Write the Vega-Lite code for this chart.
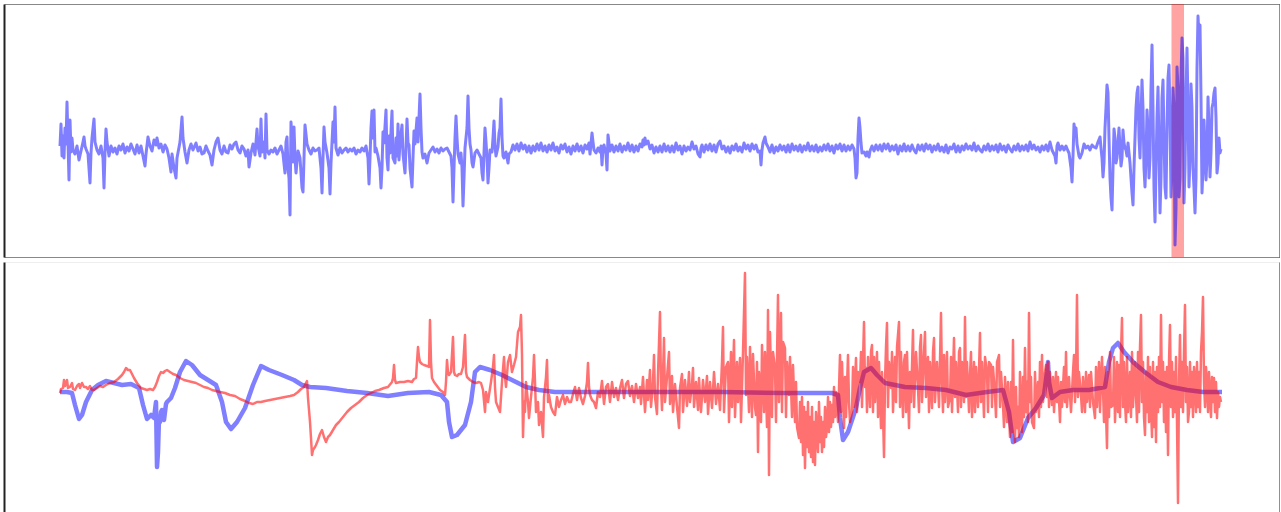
{
"$schema":"https://vega.github.io/schema/vega-lite/v6.json",
"padding":{"left":4,"top":4,"right":0,"bottom":0},
"background":"white",
"spacing":5,
"config":{"view":{"stroke":null},"axis":{"labels":false,"ticks":false,"grid":false,"domainColor":"#888888","domainWidth":1}},
"datasets":{
"top":[
{"t":60,"v":2},{"t":61,"v":24},{"t":62,"v":-8},{"t":63,"v":12},{"t":64,"v":-10},{"t":65,"v":20},{"t":66,"v":4},{"t":67,"v":46},{"t":68,"v":6},{"t":69,"v":-32},{"t":70,"v":28},{"t":71,"v":-4},{"t":72,"v":10},{"t":73,"v":-2},{"t":75,"v":-6},{"t":77,"v":2},{"t":79,"v":-12},{"t":81,"v":-3},{"t":83,"v":6},{"t":84,"v":11},{"t":85,"v":2},{"t":86,"v":-1},{"t":88,"v":-6},{"t":90,"v":-35},{"t":91,"v":-5},{"t":92,"v":10},{"t":94,"v":29},{"t":95,"v":6},{"t":97,"v":-2},{"t":99,"v":-6},{"t":101,"v":2},{"t":103,"v":-10},{"t":104,"v":-40},{"t":105,"v":-4},{"t":106,"v":19},{"t":107,"v":6},{"t":109,"v":-8},{"t":111,"v":2},{"t":113,"v":-4},{"t":115,"v":0},{"t":117,"v":-6},{"t":119,"v":2},{"t":121,"v":-2},{"t":123,"v":4},{"t":125,"v":-5},{"t":127,"v":1},{"t":129,"v":-3},{"t":131,"v":4},{"t":133,"v":-1},{"t":135,"v":-6},{"t":137,"v":3},{"t":139,"v":-5},{"t":141,"v":2},{"t":143,"v":-8},{"t":145,"v":-18},{"t":146,"v":-6},{"t":148,"v":11},{"t":150,"v":2},{"t":152,"v":-3},{"t":154,"v":8},{"t":156,"v":3},{"t":157,"v":10},{"t":159,"v":0},{"t":161,"v":4},{"t":163,"v":-4},{"t":165,"v":3},{"t":167,"v":-1},{"t":169,"v":-10},{"t":171,"v":-24},{"t":172,"v":-6},{"t":174,"v":-20},{"t":176,"v":-30},{"t":177,"v":-10},{"t":180,"v":6},{"t":182,"v":31},{"t":183,"v":10},{"t":185,"v":-4},{"t":187,"v":-15},{"t":189,"v":-2},{"t":191,"v":4},{"t":193,"v":-2},{"t":196,"v":5},{"t":198,"v":-3},{"t":200,"v":1},{"t":202,"v":-6},{"t":204,"v":-5},{"t":206,"v":2},{"t":208,"v":-3},{"t":210,"v":-7},{"t":212,"v":-17},{"t":214,"v":-2},{"t":216,"v":6},{"t":218,"v":10},{"t":220,"v":-2},{"t":222,"v":-6},{"t":224,"v":2},{"t":226,"v":-4},{"t":228,"v":-5},{"t":230,"v":3},{"t":232,"v":-1},{"t":234,"v":4},{"t":236,"v":6},{"t":238,"v":-2},{"t":240,"v":-5},{"t":242,"v":2},{"t":244,"v":-1},{"t":246,"v":-8},{"t":248,"v":-2},{"t":249,"v":-19},{"t":251,"v":-5},{"t":253,"v":4},{"t":255,"v":-7},{"t":257,"v":19},{"t":258,"v":2},{"t":260,"v":-8},{"t":261,"v":29},{"t":262,"v":-4},{"t":264,"v":6},{"t":265,"v":-10},{"t":266,"v":34},{"t":267,"v":-2},{"t":269,"v":-6},{"t":271,"v":-2},{"t":273,"v":-4},{"t":275,"v":0},{"t":277,"v":-6},{"t":279,"v":-2},{"t":281,"v":2},{"t":283,"v":-6},{"t":285,"v":-25},{"t":286,"v":6},{"t":287,"v":11},{"t":288,"v":-20},{"t":289,"v":-30},{"t":290,"v":-67},{"t":291,"v":26},{"t":292,"v":8},{"t":293,"v":-14},{"t":294,"v":21},{"t":295,"v":-10},{"t":296,"v":-25},{"t":298,"v":-3},{"t":300,"v":-10},{"t":302,"v":-40},{"t":303,"v":-44},{"t":304,"v":-10},{"t":305,"v":23},{"t":307,"v":4},{"t":309,"v":-2},{"t":311,"v":-6},{"t":313,"v":0},{"t":315,"v":-3},{"t":317,"v":-2},{"t":319,"v":0},{"t":321,"v":-20},{"t":322,"v":-45},{"t":323,"v":-10},{"t":324,"v":21},{"t":325,"v":6},{"t":327,"v":-5},{"t":329,"v":-20},{"t":330,"v":-46},{"t":331,"v":-15},{"t":333,"v":26},{"t":334,"v":6},{"t":335,"v":41},{"t":336,"v":0},{"t":338,"v":-7},{"t":340,"v":0},{"t":342,"v":-5},{"t":344,"v":-2},{"t":346,"v":0},{"t":348,"v":-4},{"t":350,"v":-1},{"t":352,"v":-3},{"t":354,"v":0},{"t":356,"v":-6},{"t":358,"v":-2},{"t":360,"v":-4},{"t":362,"v":0},{"t":364,"v":-3},{"t":366,"v":2},{"t":368,"v":-10},{"t":369,"v":-36},{"t":370,"v":-10},{"t":371,"v":20},{"t":372,"v":37},{"t":373,"v":10},{"t":374,"v":38},{"t":375,"v":-4},{"t":376,"v":0},{"t":378,"v":-8},{"t":380,"v":-20},{"t":381,"v":-40},{"t":382,"v":-20},{"t":383,"v":16},{"t":384,"v":5},{"t":386,"v":38},{"t":387,"v":-10},{"t":388,"v":-22},{"t":389,"v":12},{"t":390,"v":-5},{"t":392,"v":37},{"t":393,"v":-10},{"t":395,"v":-15},{"t":396,"v":10},{"t":397,"v":-8},{"t":398,"v":24},{"t":399,"v":-12},{"t":400,"v":5},{"t":402,"v":23},{"t":403,"v":-6},{"t":405,"v":-25},{"t":406,"v":0},{"t":407,"v":29},{"t":408,"v":5},{"t":409,"v":3},{"t":410,"v":-20},{"t":412,"v":-39},{"t":413,"v":-10},{"t":414,"v":17},{"t":415,"v":4},{"t":417,"v":30},{"t":418,"v":6},{"t":420,"v":54},{"t":421,"v":20},{"t":422,"v":-4},{"t":423,"v":-10},{"t":425,"v":-6},{"t":427,"v":-15},{"t":429,"v":-5},{"t":431,"v":-2},{"t":433,"v":1},{"t":435,"v":-4},{"t":437,"v":-1},{"t":439,"v":-5},{"t":441,"v":0},{"t":443,"v":-3},{"t":445,"v":-1},{"t":447,"v":0},{"t":449,"v":-4},{"t":451,"v":-8},{"t":452,"v":-20},{"t":453,"v":-54},{"t":454,"v":-20},{"t":455,"v":10},{"t":456,"v":32},{"t":457,"v":10},{"t":458,"v":-6},{"t":460,"v":-15},{"t":461,"v":-5},{"t":462,"v":-20},{"t":463,"v":-58},{"t":464,"v":-30},{"t":465,"v":0},{"t":467,"v":20},{"t":468,"v":52},{"t":469,"v":20},{"t":470,"v":4},{"t":471,"v":-2},{"t":472,"v":-15},{"t":473,"v":-19},{"t":475,"v":-5},{"t":477,"v":-2},{"t":479,"v":-6},{"t":481,"v":-10},{"t":482,"v":-25},{"t":483,"v":-32},{"t":484,"v":-5},{"t":485,"v":20},{"t":486,"v":6},{"t":487,"v":-10},{"t":488,"v":-35},{"t":489,"v":-20},{"t":490,"v":-2},{"t":492,"v":-4},{"t":493,"v":10},{"t":494,"v":27},{"t":495,"v":2},{"t":496,"v":-8},{"t":498,"v":1},{"t":499,"v":15},{"t":500,"v":20},{"t":501,"v":49},{"t":502,"v":10},{"t":503,"v":-8},{"t":504,"v":-10},{"t":506,"v":-4},{"t":508,"v":-15},{"t":509,"v":-6},
{"t":511,"v":-4},{"t":513,"v":3},{"t":515,"v":-2},{"t":517,"v":4},{"t":519,"v":-3},{"t":521,"v":5},{"t":523,"v":-1},{"t":525,"v":3},{"t":527,"v":-4},{"t":529,"v":2},{"t":531,"v":-5},{"t":533,"v":2},{"t":535,"v":-3},{"t":537,"v":4},{"t":539,"v":-2},{"t":541,"v":5},{"t":543,"v":-3},{"t":545,"v":2},{"t":547,"v":-4},{"t":549,"v":3},{"t":551,"v":-2},{"t":553,"v":5},{"t":555,"v":-3},{"t":557,"v":1},{"t":559,"v":-5},{"t":561,"v":3},{"t":563,"v":-1},{"t":565,"v":4},{"t":567,"v":-4},{"t":569,"v":1},{"t":571,"v":-6},{"t":573,"v":2},{"t":575,"v":-3},{"t":577,"v":4},{"t":579,"v":-3},{"t":581,"v":2},{"t":583,"v":-5},{"t":585,"v":3},{"t":587,"v":-1},{"t":589,"v":5},{"t":590,"v":-6},{"t":591,"v":4},{"t":592,"v":15},{"t":593,"v":6},{"t":594,"v":-2},{"t":596,"v":-5},{"t":598,"v":0},{"t":600,"v":-4},{"t":601,"v":2},{"t":602,"v":-17},{"t":603,"v":0},{"t":604,"v":3},{"t":606,"v":-6},{"t":607,"v":-22},{"t":608,"v":13},{"t":609,"v":5},{"t":610,"v":-3},{"t":612,"v":3},{"t":614,"v":-4},{"t":616,"v":2},{"t":618,"v":-3},{"t":620,"v":4},{"t":622,"v":-4},{"t":624,"v":2},{"t":626,"v":-2},{"t":628,"v":5},{"t":630,"v":-3},{"t":632,"v":3},{"t":634,"v":-4},{"t":636,"v":2},{"t":638,"v":-3},{"t":640,"v":4},{"t":642,"v":1},{"t":643,"v":8},{"t":644,"v":3},{"t":645,"v":10},{"t":646,"v":4},{"t":648,"v":7},{"t":650,"v":-1},{"t":652,"v":3},{"t":654,"v":-5},{"t":656,"v":1},{"t":658,"v":-4},{"t":660,"v":2},{"t":662,"v":-4},{"t":664,"v":4},{"t":666,"v":-3},{"t":668,"v":2},{"t":670,"v":-4},{"t":672,"v":2},{"t":674,"v":-4},{"t":676,"v":5},{"t":678,"v":-2},{"t":680,"v":2},{"t":682,"v":-6},{"t":684,"v":2},{"t":686,"v":-3},{"t":688,"v":1},{"t":690,"v":-2},{"t":692,"v":6},{"t":694,"v":-1},{"t":696,"v":2},{"t":698,"v":-6},{"t":700,"v":-9},{"t":701,"v":0},{"t":702,"v":3},{"t":704,"v":-4},{"t":706,"v":3},{"t":708,"v":-2},{"t":710,"v":4},{"t":712,"v":-3},{"t":714,"v":3},{"t":716,"v":-4},{"t":718,"v":4},{"t":720,"v":7},{"t":722,"v":-1},{"t":724,"v":2},{"t":726,"v":-4},{"t":728,"v":1},{"t":730,"v":-5},{"t":732,"v":2},{"t":734,"v":-2},{"t":736,"v":4},{"t":738,"v":-3},{"t":740,"v":1},{"t":742,"v":-4},{"t":744,"v":5},{"t":746,"v":-1},{"t":748,"v":3},{"t":750,"v":-3},{"t":752,"v":4},{"t":754,"v":-1},{"t":756,"v":3},{"t":758,"v":-4},{"t":760,"v":-3},{"t":761,"v":-17},{"t":762,"v":-2},{"t":763,"v":5},{"t":764,"v":8},{"t":765,"v":11},{"t":766,"v":5},{"t":768,"v":1},{"t":770,"v":-4},{"t":772,"v":3},{"t":774,"v":-5},{"t":776,"v":1},{"t":778,"v":-3},{"t":780,"v":3},{"t":782,"v":-2},{"t":784,"v":2},{"t":786,"v":-4},{"t":788,"v":3},{"t":790,"v":-4},{"t":792,"v":4},{"t":794,"v":-2},{"t":796,"v":2},{"t":798,"v":-3},{"t":800,"v":3},{"t":802,"v":-4},{"t":804,"v":2},{"t":806,"v":-2},{"t":808,"v":5},{"t":810,"v":-3},{"t":812,"v":2},{"t":814,"v":-3},{"t":816,"v":3},{"t":818,"v":-4},{"t":820,"v":1},{"t":822,"v":-3},{"t":824,"v":3},{"t":826,"v":-2},{"t":828,"v":4},{"t":830,"v":-3},{"t":832,"v":2},{"t":834,"v":-5},{"t":836,"v":3},{"t":838,"v":-1},{"t":840,"v":4},{"t":842,"v":-3},{"t":844,"v":3},{"t":846,"v":-3},{"t":848,"v":2},{"t":850,"v":-2},{"t":852,"v":3},{"t":854,"v":-1},{"t":855,"v":-10},{"t":856,"v":-30},{"t":857,"v":-25},{"t":858,"v":10},{"t":859,"v":30},{"t":860,"v":20},{"t":861,"v":5},{"t":862,"v":-5},{"t":864,"v":-4},{"t":866,"v":-8},{"t":867,"v":-4},{"t":869,"v":-9},{"t":870,"v":-3},{"t":872,"v":2},{"t":874,"v":-3},{"t":876,"v":3},{"t":878,"v":-2},{"t":880,"v":3},{"t":882,"v":-3},{"t":884,"v":4},{"t":886,"v":-1},{"t":888,"v":4},{"t":890,"v":-3},{"t":892,"v":2},{"t":894,"v":-2},{"t":896,"v":3},{"t":898,"v":-6},{"t":900,"v":2},{"t":902,"v":-3},{"t":904,"v":4},{"t":906,"v":-3},{"t":908,"v":2},{"t":910,"v":-3},{"t":912,"v":3},{"t":914,"v":-2},{"t":916,"v":-5},{"t":918,"v":3},{"t":920,"v":-2},{"t":922,"v":3},{"t":924,"v":-3},{"t":926,"v":4},{"t":928,"v":-1},{"t":930,"v":3},{"t":932,"v":-4},{"t":934,"v":2},{"t":936,"v":-2},{"t":938,"v":4},{"t":940,"v":-3},{"t":942,"v":1},{"t":944,"v":-4},{"t":946,"v":3},{"t":948,"v":-5},{"t":950,"v":1},{"t":952,"v":-1},{"t":954,"v":4},{"t":956,"v":-4},{"t":958,"v":2},{"t":960,"v":-4},{"t":962,"v":2},{"t":964,"v":-2},{"t":966,"v":4},{"t":968,"v":-1},{"t":970,"v":2},{"t":972,"v":-2},{"t":974,"v":5},{"t":976,"v":-3},{"t":978,"v":2},{"t":980,"v":-2},{"t":982,"v":-4},{"t":984,"v":2},{"t":986,"v":-2},{"t":988,"v":4},{"t":990,"v":-3},{"t":992,"v":2},{"t":994,"v":-2},{"t":996,"v":3},{"t":998,"v":-4},{"t":1000,"v":4},{"t":1002,"v":-2},{"t":1004,"v":2},{"t":1006,"v":-4},{"t":1008,"v":3},{"t":1010,"v":-1},{"t":1012,"v":-4},{"t":1014,"v":2},{"t":1016,"v":-2},{"t":1018,"v":4},{"t":1020,"v":-3},{"t":1022,"v":2},{"t":1024,"v":-2},{"t":1026,"v":3},{"t":1028,"v":-3},{"t":1030,"v":6},{"t":1032,"v":-1},{"t":1034,"v":3},{"t":1036,"v":-2},{"t":1038,"v":1},{"t":1040,"v":-4},{"t":1042,"v":2},{"t":1044,"v":-2},{"t":1046,"v":3},{"t":1048,"v":-3},{"t":1050,"v":6},{"t":1052,"v":-2},{"t":1054,"v":-6},{"t":1055,"v":-8},{"t":1056,"v":-15},{"t":1057,"v":2},{"t":1058,"v":5},{"t":1060,"v":-2},{"t":1062,"v":2},{"t":1064,"v":-2},{"t":1066,"v":2},{"t":1068,"v":-3},{"t":1069,"v":-5},
{"t":1071,"v":-20},{"t":1072,"v":-34},{"t":1073,"v":-8},{"t":1074,"v":24},{"t":1075,"v":15},{"t":1076,"v":20},{"t":1077,"v":4},{"t":1079,"v":-8},{"t":1080,"v":-10},{"t":1082,"v":-5},{"t":1084,"v":4},{"t":1086,"v":0},{"t":1088,"v":2},{"t":1090,"v":-2},{"t":1092,"v":3},{"t":1094,"v":1},{"t":1096,"v":0},{"t":1098,"v":6},{"t":1100,"v":11},{"t":1101,"v":0},{"t":1102,"v":-10},{"t":1103,"v":-29},{"t":1104,"v":-15},{"t":1105,"v":20},{"t":1106,"v":40},{"t":1107,"v":63},{"t":1108,"v":55},{"t":1109,"v":10},{"t":1110,"v":-30},{"t":1111,"v":-50},{"t":1112,"v":-62},{"t":1113,"v":-20},{"t":1114,"v":19},{"t":1115,"v":10},{"t":1116,"v":-15},{"t":1117,"v":-10},{"t":1118,"v":5},{"t":1119,"v":20},{"t":1120,"v":0},{"t":1121,"v":-18},{"t":1122,"v":-10},{"t":1123,"v":18},{"t":1124,"v":5},{"t":1125,"v":0},{"t":1126,"v":-2},{"t":1127,"v":-8},{"t":1128,"v":5},{"t":1129,"v":-5},{"t":1130,"v":-15},{"t":1131,"v":-30},{"t":1132,"v":-45},{"t":1133,"v":-57},{"t":1134,"v":-20},{"t":1135,"v":10},{"t":1136,"v":40},{"t":1137,"v":55},{"t":1138,"v":61},{"t":1139,"v":10},{"t":1140,"v":-10},{"t":1141,"v":30},{"t":1142,"v":68},{"t":1143,"v":40},{"t":1144,"v":-20},{"t":1145,"v":-39},{"t":1146,"v":-10},{"t":1147,"v":38},{"t":1148,"v":20},{"t":1149,"v":-30},{"t":1150,"v":-10},{"t":1151,"v":60},{"t":1152,"v":103},{"t":1153,"v":40},{"t":1154,"v":-40},{"t":1155,"v":-74},{"t":1156,"v":-20},{"t":1157,"v":30},{"t":1158,"v":61},{"t":1159,"v":0},{"t":1160,"v":-65},{"t":1161,"v":-30},{"t":1162,"v":50},{"t":1163,"v":68},{"t":1164,"v":10},{"t":1165,"v":-39},{"t":1166,"v":-50},{"t":1167,"v":20},{"t":1168,"v":70},{"t":1169,"v":83},{"t":1170,"v":30},{"t":1171,"v":-49},{"t":1172,"v":-20},{"t":1173,"v":60},{"t":1174,"v":40},{"t":1175,"v":-97},{"t":1176,"v":-60},{"t":1177,"v":81},{"t":1178,"v":60},{"t":1179,"v":-49},{"t":1180,"v":-30},{"t":1181,"v":70},{"t":1182,"v":110},{"t":1183,"v":90},{"t":1184,"v":-55},{"t":1185,"v":-20},{"t":1186,"v":50},{"t":1187,"v":100},{"t":1188,"v":40},{"t":1189,"v":-39},{"t":1190,"v":-10},{"t":1191,"v":64},{"t":1192,"v":40},{"t":1193,"v":-20},{"t":1194,"v":-40},{"t":1195,"v":-65},{"t":1196,"v":-30},{"t":1197,"v":80},{"t":1198,"v":132},{"t":1199,"v":110},{"t":1200,"v":123},{"t":1201,"v":50},{"t":1202,"v":-45},{"t":1203,"v":-20},{"t":1204,"v":28},{"t":1205,"v":0},{"t":1206,"v":-32},{"t":1207,"v":-10},{"t":1208,"v":51},{"t":1209,"v":20},{"t":1210,"v":-29},{"t":1211,"v":-5},{"t":1212,"v":40},{"t":1213,"v":45},{"t":1214,"v":55},{"t":1215,"v":60},{"t":1216,"v":30},{"t":1217,"v":-25},{"t":1218,"v":-15},{"t":1219,"v":10},{"t":1220,"v":-5},{"t":1221,"v":-1}
],
"blue2":[
{"t":60,"v":0},{"t":67,"v":0},{"t":72,"v":-1},{"t":75,"v":-13},{"t":79,"v":-27},{"t":82,"v":-23},{"t":86,"v":-10},{"t":92,"v":2},{"t":98,"v":7},{"t":106,"v":11},{"t":114,"v":9},{"t":122,"v":7},{"t":131,"v":8},{"t":139,"v":4},{"t":143,"v":-13},{"t":147,"v":-27},{"t":151,"v":-23},{"t":154,"v":-26},{"t":156,"v":-10},{"t":157,"v":-75},{"t":158,"v":-60},{"t":159,"v":-26},{"t":160,"v":-30},{"t":161,"v":-20},{"t":162,"v":-18},{"t":163,"v":-26},{"t":164,"v":-28},{"t":166,"v":-12},{"t":167,"v":-10},{"t":171,"v":-6},{"t":175,"v":4},{"t":180,"v":20},{"t":186,"v":31},{"t":192,"v":27},{"t":200,"v":17},{"t":208,"v":12},{"t":216,"v":7},{"t":222,"v":-10},{"t":226,"v":-30},{"t":231,"v":-37},{"t":237,"v":-30},{"t":245,"v":-16},{"t":253,"v":7},{"t":261,"v":26},{"t":269,"v":22},{"t":282,"v":17},{"t":294,"v":12},{"t":302,"v":7},{"t":310,"v":5},{"t":326,"v":4},{"t":347,"v":1},{"t":367,"v":-1},{"t":388,"v":-4},{"t":408,"v":-1},{"t":429,"v":0},{"t":441,"v":-3},{"t":447,"v":-10},{"t":449,"v":-30},{"t":452,"v":-45},{"t":457,"v":-43},{"t":465,"v":-33},{"t":471,"v":-10},{"t":475,"v":20},{"t":480,"v":25},{"t":490,"v":22},{"t":502,"v":17},{"t":514,"v":11},{"t":526,"v":5},{"t":539,"v":2},{"t":555,"v":0},{"t":571,"v":0},{"t":612,"v":0},{"t":640,"v":0},{"t":722,"v":0},{"t":783,"v":-1},{"t":811,"v":-1},{"t":832,"v":-1},{"t":838,"v":-3},{"t":840,"v":-26},{"t":843,"v":-48},{"t":848,"v":-40},{"t":856,"v":-16},{"t":860,"v":4},{"t":864,"v":20},{"t":871,"v":24},{"t":877,"v":17},{"t":885,"v":9},{"t":905,"v":5},{"t":926,"v":4},{"t":946,"v":2},{"t":966,"v":-3},{"t":987,"v":0},{"t":1003,"v":2},{"t":1009,"v":-20},{"t":1013,"v":-50},{"t":1020,"v":-46},{"t":1028,"v":-26},{"t":1036,"v":-16},{"t":1044,"v":-3},{"t":1047,"v":20},{"t":1048,"v":30},{"t":1049,"v":10},{"t":1052,"v":-6},{"t":1060,"v":0},{"t":1073,"v":2},{"t":1089,"v":2},{"t":1105,"v":5},{"t":1109,"v":30},{"t":1113,"v":44},{"t":1118,"v":49},{"t":1124,"v":40},{"t":1134,"v":29},{"t":1146,"v":19},{"t":1158,"v":10},{"t":1171,"v":5},{"t":1187,"v":2},{"t":1203,"v":0},{"t":1222,"v":0}
],
"red2":[
{"t":60,"v":-1},{"t":61,"v":3},{"t":63,"v":4},{"t":64,"v":12},{"t":65,"v":6},{"t":67,"v":12},{"t":68,"v":4},{"t":70,"v":5},{"t":72,"v":9},{"t":73,"v":3},{"t":75,"v":2},{"t":77,"v":6},{"t":79,"v":8},{"t":80,"v":4},{"t":82,"v":9},{"t":84,"v":5},{"t":86,"v":5},{"t":88,"v":3},{"t":90,"v":6},{"t":92,"v":2},{"t":94,"v":2},{"t":97,"v":4},{"t":100,"v":6},{"t":103,"v":5},{"t":106,"v":7},{"t":110,"v":9},{"t":114,"v":10},{"t":118,"v":13},{"t":122,"v":17},{"t":124,"v":20},{"t":126,"v":24},{"t":128,"v":22},{"t":130,"v":22},{"t":132,"v":18},{"t":134,"v":14},{"t":137,"v":9},{"t":141,"v":4},{"t":144,"v":3},{"t":147,"v":2},{"t":150,"v":3},{"t":153,"v":2},{"t":155,"v":5},{"t":157,"v":10},{"t":159,"v":16},{"t":161,"v":20},{"t":163,"v":19},{"t":165,"v":21},{"t":167,"v":22},{"t":170,"v":20},{"t":173,"v":18},{"t":176,"v":17},{"t":180,"v":14},{"t":184,"v":12},{"t":188,"v":11},{"t":192,"v":10},{"t":196,"v":9},{"t":200,"v":7},{"t":204,"v":5},{"t":208,"v":4},{"t":212,"v":2},{"t":216,"v":1},{"t":220,"v":0},{"t":225,"v":-1},{"t":230,"v":-3},{"t":235,"v":-4},{"t":240,"v":-7},{"t":245,"v":-9},{"t":249,"v":-11},{"t":253,"v":-12},{"t":257,"v":-10},{"t":261,"v":-10},{"t":265,"v":-9},{"t":270,"v":-8},{"t":275,"v":-7},{"t":280,"v":-6},{"t":285,"v":-5},{"t":290,"v":-4},{"t":294,"v":-3},{"t":298,"v":0},{"t":301,"v":3},{"t":304,"v":5},{"t":306,"v":9},{"t":307,"v":11},{"t":308,"v":-6},{"t":310,"v":-30},{"t":311,"v":-46},{"t":312,"v":-63},{"t":313,"v":-58},{"t":315,"v":-55},{"t":316,"v":-53},{"t":318,"v":-48},{"t":320,"v":-42},{"t":322,"v":-38},{"t":324,"v":-45},{"t":326,"v":-50},{"t":328,"v":-45},{"t":330,"v":-43},{"t":333,"v":-38},{"t":336,"v":-33},{"t":339,"v":-30},{"t":343,"v":-25},{"t":347,"v":-20},{"t":351,"v":-16},{"t":355,"v":-13},{"t":359,"v":-10},{"t":363,"v":-6},{"t":367,"v":-3},{"t":371,"v":-1},{"t":375,"v":1},{"t":379,"v":2},{"t":384,"v":4},{"t":388,"v":5},{"t":392,"v":10},{"t":393,"v":14},{"t":394,"v":27},{"t":395,"v":12},{"t":396,"v":9},{"t":400,"v":10},{"t":404,"v":10},{"t":408,"v":11},{"t":412,"v":10},{"t":414,"v":13},{"t":416,"v":14},{"t":417,"v":30},{"t":418,"v":45},{"t":419,"v":35},{"t":420,"v":30},{"t":422,"v":28},{"t":424,"v":27},{"t":427,"v":26},{"t":429,"v":25},{"t":430,"v":72},{"t":431,"v":30},{"t":432,"v":14},{"t":434,"v":10},{"t":437,"v":6},{"t":440,"v":2},{"t":443,"v":0},{"t":445,"v":-3},{"t":446,"v":10},{"t":447,"v":32},{"t":448,"v":20},{"t":449,"v":17},{"t":451,"v":20},{"t":453,"v":55},{"t":454,"v":20},{"t":455,"v":17},{"t":457,"v":16},{"t":459,"v":18},{"t":461,"v":18},{"t":463,"v":25},{"t":465,"v":57},{"t":466,"v":20},{"t":467,"v":15},{"t":470,"v":12},{"t":473,"v":10},{"t":476,"v":9},{"t":479,"v":10},{"t":481,"v":9},{"t":483,"v":2},{"t":485,"v":-20},{"t":486,"v":0},{"t":488,"v":-10},{"t":489,"v":-3},{"t":491,"v":10},{"t":493,"v":25},{"t":494,"v":37},{"t":495,"v":5},{"t":496,"v":-10},{"t":498,"v":-15},{"t":500,"v":-20},{"t":502,"v":10},{"t":504,"v":35},{"t":505,"v":15},{"t":506,"v":5},{"t":508,"v":30},{"t":510,"v":37},{"t":512,"v":20},{"t":514,"v":27},{"t":516,"v":35},{"t":518,"v":60},{"t":520,"v":65},{"t":521,"v":77},{"t":522,"v":37},{"t":523,"v":-45},{"t":524,"v":-10},{"t":525,"v":-20},{"t":526,"v":10},{"t":528,"v":-10},{"t":529,"v":-26},{"t":531,"v":-5},{"t":533,"v":15},{"t":534,"v":37},{"t":535,"v":10},{"t":536,"v":-20},{"t":538,"v":-10},{"t":539,"v":-33},{"t":541,"v":-20},{"t":543,"v":-45},{"t":544,"v":-5},{"t":546,"v":15},{"t":547,"v":32},{"t":548,"v":-10},{"t":549,"v":-3},{"t":551,"v":-15},{"t":553,"v":-20},{"t":555,"v":-23},{"t":557,"v":-5},{"t":559,"v":-15},{"t":561,"v":-8},{"t":563,"v":-3},{"t":565,"v":-12},{"t":567,"v":-5},{"t":569,"v":-10},{"t":571,"v":-10},{"t":573,"v":-2},{"t":575,"v":5},{"t":577,"v":-8},{"t":579,"v":4},{"t":581,"v":-6},{"t":583,"v":-12},{"t":585,"v":-4},{"t":587,"v":10},{"t":588,"v":29},{"t":589,"v":5},{"t":590,"v":-3},{"t":592,"v":-8},{"t":594,"v":-10},{"t":596,"v":-16},{"t":598,"v":0},{"t":600,"v":-5},{"t":602,"v":11},{"t":604,"v":-12},{"t":606,"v":5},{"t":608,"v":8},{"t":610,"v":-10},{"t":612,"v":10},{"t":614,"v":-5},{"t":616,"v":4},{"t":618,"v":-8},{"t":620,"v":4},{"t":622,"v":12},{"t":624,"v":-6},{"t":626,"v":8},{"t":628,"v":11},{"t":630,"v":-4},{"t":632,"v":6},{"t":634,"v":-10},{"t":636,"v":8},{"t":638,"v":-6},
{"t":640,"v":5},{"t":641,"v":-12},{"t":643,"v":15},{"t":645,"v":-20},{"t":647,"v":12},{"t":648,"v":-8},{"t":650,"v":22},{"t":651,"v":-15},{"t":653,"v":10},{"t":654,"v":37},{"t":655,"v":-5},{"t":657,"v":-22},{"t":658,"v":18},{"t":660,"v":80},{"t":661,"v":5},{"t":662,"v":-18},{"t":664,"v":54},{"t":665,"v":-10},{"t":667,"v":15},{"t":669,"v":40},{"t":670,"v":-12},{"t":672,"v":16},{"t":673,"v":-20},{"t":675,"v":8},{"t":677,"v":-15},{"t":679,"v":-36},{"t":680,"v":4},{"t":682,"v":18},{"t":683,"v":-20},{"t":685,"v":12},{"t":687,"v":-14},{"t":689,"v":20},{"t":690,"v":-10},{"t":692,"v":8},{"t":693,"v":24},{"t":694,"v":-15},{"t":696,"v":10},{"t":698,"v":-18},{"t":699,"v":14},{"t":701,"v":-20},{"t":703,"v":12},{"t":705,"v":-10},{"t":707,"v":16},{"t":708,"v":-22},{"t":710,"v":10},{"t":712,"v":-16},{"t":714,"v":20},{"t":716,"v":-12},{"t":718,"v":8},{"t":720,"v":-18},{"t":722,"v":30},{"t":723,"v":65},{"t":724,"v":-20},{"t":726,"v":25},{"t":728,"v":30},{"t":729,"v":-30},{"t":731,"v":40},{"t":732,"v":-15},{"t":734,"v":52},{"t":735,"v":-25},{"t":737,"v":30},{"t":738,"v":-10},{"t":740,"v":34},{"t":741,"v":-30},{"t":743,"v":40},{"t":745,"v":119},{"t":746,"v":-3},{"t":747,"v":35},{"t":749,"v":-20},{"t":750,"v":45},{"t":752,"v":-25},{"t":753,"v":38},{"t":755,"v":-15},{"t":756,"v":-23},{"t":757,"v":30},{"t":758,"v":-60},{"t":759,"v":20},{"t":761,"v":-30},{"t":762,"v":47},{"t":764,"v":-20},{"t":765,"v":40},{"t":767,"v":-35},{"t":768,"v":82},{"t":769,"v":-83},{"t":770,"v":60},{"t":772,"v":-25},{"t":773,"v":40},{"t":775,"v":24},{"t":776,"v":-30},{"t":778,"v":97},{"t":779,"v":-10},{"t":781,"v":79},{"t":782,"v":-20},{"t":783,"v":50},{"t":785,"v":44},{"t":786,"v":-25},{"t":787,"v":30},{"t":789,"v":-3},{"t":790,"v":35},{"t":792,"v":-25},{"t":793,"v":27},{"t":795,"v":-30},{"t":796,"v":10},{"t":797,"v":-35},{"t":799,"v":-46},{"t":800,"v":-10},{"t":801,"v":-50},{"t":802,"v":-5},{"t":803,"v":-63},{"t":804,"v":-15},{"t":805,"v":-76},{"t":806,"v":-20},{"t":807,"v":-55},{"t":808,"v":-10},{"t":809,"v":-60},{"t":810,"v":-25},{"t":811,"v":-65},{"t":812,"v":-15},{"t":813,"v":-70},{"t":814,"v":-30},{"t":815,"v":-73},{"t":816,"v":-20},{"t":818,"v":-60},{"t":819,"v":-10},{"t":820,"v":-50},{"t":821,"v":-25},{"t":822,"v":-60},{"t":823,"v":-30},{"t":824,"v":-55},{"t":825,"v":-15},{"t":826,"v":-45},{"t":827,"v":-36},{"t":828,"v":-5},{"t":829,"v":-40},{"t":830,"v":-10},{"t":831,"v":-35},{"t":832,"v":-13},{"t":833,"v":-30},{"t":834,"v":5},{"t":835,"v":-25},{"t":836,"v":0},{"t":838,"v":-30},{"t":840,"v":37},{"t":841,"v":-20},{"t":842,"v":30},{"t":844,"v":-36},{"t":845,"v":15},{"t":846,"v":-25},{"t":848,"v":37},{"t":849,"v":-10},{"t":850,"v":-30},{"t":852,"v":-20},{"t":853,"v":25},{"t":854,"v":-15},{"t":856,"v":34},{"t":857,"v":-20},{"t":858,"v":20},{"t":860,"v":10},{"t":861,"v":40},{"t":862,"v":-15},{"t":863,"v":30},{"t":864,"v":70},{"t":865,"v":5},{"t":866,"v":24},{"t":867,"v":-20},{"t":868,"v":35},{"t":870,"v":-15},{"t":871,"v":40},{"t":872,"v":47},{"t":873,"v":-20},{"t":874,"v":35},{"t":875,"v":-10},{"t":877,"v":40},{"t":878,"v":-25},{"t":879,"v":30},{"t":881,"v":-36},{"t":882,"v":20},{"t":883,"v":-20},{"t":884,"v":-65},{"t":885,"v":10},{"t":886,"v":45},{"t":887,"v":69},{"t":888,"v":-15},{"t":889,"v":30},{"t":891,"v":4},{"t":892,"v":40},{"t":893,"v":-20},{"t":895,"v":35},{"t":896,"v":-10},{"t":897,"v":45},{"t":899,"v":70},{"t":900,"v":-15},{"t":901,"v":40},{"t":903,"v":-25},{"t":904,"v":30},{"t":905,"v":37},{"t":906,"v":-20},{"t":907,"v":40},{"t":909,"v":-36},{"t":910,"v":20},{"t":911,"v":-10},{"t":913,"v":62},{"t":914,"v":-15},{"t":916,"v":40},{"t":918,"v":4},{"t":919,"v":-20},{"t":920,"v":45},{"t":921,"v":57},{"t":922,"v":-10},{"t":924,"v":40},{"t":925,"v":60},{"t":926,"v":-5},{"t":928,"v":35},{"t":929,"v":-20},{"t":930,"v":30},{"t":932,"v":-16},{"t":933,"v":40},{"t":934,"v":54},{"t":935,"v":-10},{"t":937,"v":30},{"t":939,"v":-15},{"t":941,"v":79},{"t":942,"v":10},{"t":943,"v":-20},{"t":944,"v":37},{"t":945,"v":-10},{"t":947,"v":40},{"t":948,"v":-15},{"t":950,"v":-6},{"t":951,"v":35},{"t":952,"v":-20},{"t":954,"v":54},{"t":955,"v":-5},{"t":956,"v":30},{"t":958,"v":-20},{"t":959,"v":40},{"t":960,"v":44},{"t":961,"v":-15},{"t":962,"v":30},{"t":964,"v":-10},{"t":965,"v":75},{"t":966,"v":-5},{"t":967,"v":30},{"t":969,"v":-20},{"t":970,"v":17},{"t":971,"v":40},{"t":972,"v":-25},{"t":974,"v":30},{"t":975,"v":-20},{"t":976,"v":25},{"t":978,"v":-15},{"t":980,"v":59},{"t":981,"v":-10},{"t":982,"v":30},{"t":984,"v":-25},{"t":985,"v":35},{"t":987,"v":20},{"t":988,"v":-20},{"t":989,"v":30},{"t":991,"v":27},{"t":992,"v":-15},{"t":993,"v":25},{"t":995,"v":-3},{"t":996,"v":-25},{"t":997,"v":30},{"t":999,"v":37},{"t":1000,"v":-15},{"t":1001,"v":20},{"t":1003,"v":-13},{"t":1004,"v":-35},{"t":1005,"v":15},{"t":1007,"v":-30},{"t":1008,"v":10},{"t":1009,"v":-23},{"t":1010,"v":-45},{"t":1011,"v":10},{"t":1012,"v":-40},{"t":1013,"v":52},{"t":1014,"v":-30},{"t":1015,"v":-50},{"t":1016,"v":5},{"t":1017,"v":-36},{"t":1018,"v":-15},{"t":1019,"v":-45},{"t":1020,"v":20},{"t":1021,"v":-20},{"t":1022,"v":-40},{"t":1023,"v":15},{"t":1024,"v":-25},{"t":1025,"v":44},{"t":1026,"v":-20},{"t":1027,"v":10},{"t":1028,"v":-30},{"t":1029,"v":79},{"t":1030,"v":-10},{"t":1031,"v":15},{"t":1032,"v":-30},{"t":1034,"v":-36},{"t":1035,"v":20},{"t":1036,"v":-20},{"t":1038,"v":10},{"t":1039,"v":-25},{"t":1040,"v":30},{"t":1041,"v":-15},{"t":1042,"v":37},{"t":1043,"v":-10},{"t":1045,"v":20},{"t":1046,"v":27},{"t":1047,"v":-5},{"t":1048,"v":30},{"t":1049,"v":-15},{"t":1050,"v":20},{"t":1052,"v":-13},{"t":1053,"v":15},{"t":1054,"v":-20},{"t":1056,"v":20},{"t":1057,"v":-10},{"t":1058,"v":15},{"t":1060,"v":-30},{"t":1061,"v":10},{"t":1062,"v":-15},{"t":1064,"v":25},{"t":1065,"v":-10},{"t":1066,"v":40},{"t":1067,"v":-15},{"t":1069,"v":15},{"t":1070,"v":-3},{"t":1071,"v":-20},{"t":1073,"v":20},{"t":1074,"v":37},{"t":1075,"v":-10},{"t":1076,"v":15},{"t":1077,"v":97},{"t":1078,"v":-5},{"t":1079,"v":20},{"t":1081,"v":-3},{"t":1082,"v":-20},{"t":1083,"v":15},{"t":1085,"v":-20},{"t":1086,"v":20},{"t":1087,"v":-10},{"t":1089,"v":17},{"t":1090,"v":-15},{"t":1091,"v":20},{"t":1093,"v":-10},{"t":1095,"v":-26},{"t":1096,"v":25},{"t":1097,"v":-15},{"t":1099,"v":30},{"t":1100,"v":-20},{"t":1101,"v":10},{"t":1102,"v":35},{"t":1104,"v":-30},{"t":1105,"v":25},{"t":1106,"v":-20},{"t":1107,"v":-56},{"t":1108,"v":20},{"t":1109,"v":-25},{"t":1110,"v":40},{"t":1111,"v":-15},{"t":1113,"v":-13},{"t":1114,"v":35},{"t":1115,"v":-30},{"t":1117,"v":30},{"t":1118,"v":-20},{"t":1119,"v":27},{"t":1120,"v":-25},{"t":1121,"v":40},{"t":1122,"v":74},{"t":1123,"v":-15},{"t":1124,"v":30},{"t":1125,"v":-10},{"t":1126,"v":-30},{"t":1127,"v":35},{"t":1128,"v":-20},{"t":1130,"v":20},{"t":1131,"v":-25},{"t":1132,"v":40},{"t":1133,"v":-15},{"t":1135,"v":30},{"t":1136,"v":-3},{"t":1137,"v":-30},{"t":1138,"v":40},{"t":1139,"v":-20},{"t":1140,"v":45},{"t":1141,"v":77},{"t":1142,"v":-10},{"t":1143,"v":30},{"t":1144,"v":-25},{"t":1145,"v":-43},{"t":1146,"v":20},{"t":1147,"v":-20},{"t":1148,"v":35},{"t":1149,"v":-30},{"t":1150,"v":25},{"t":1151,"v":-15},{"t":1152,"v":-45},{"t":1153,"v":30},{"t":1154,"v":-35},{"t":1155,"v":20},{"t":1156,"v":-50},{"t":1157,"v":25},{"t":1158,"v":-20},{"t":1159,"v":35},{"t":1160,"v":-15},{"t":1161,"v":77},{"t":1162,"v":-10},{"t":1163,"v":30},{"t":1164,"v":-30},{"t":1165,"v":20},{"t":1166,"v":-40},{"t":1167,"v":25},{"t":1168,"v":-63},{"t":1169,"v":30},{"t":1170,"v":67},{"t":1171,"v":-15},{"t":1172,"v":30},{"t":1173,"v":-25},{"t":1174,"v":20},{"t":1175,"v":-20},{"t":1176,"v":35},{"t":1177,"v":-30},{"t":1178,"v":-111},{"t":1179,"v":10},{"t":1180,"v":57},{"t":1181,"v":-15},{"t":1182,"v":30},{"t":1183,"v":-20},{"t":1184,"v":40},{"t":1185,"v":87},{"t":1186,"v":-10},{"t":1187,"v":25},{"t":1188,"v":-30},{"t":1189,"v":-20},{"t":1190,"v":30},{"t":1191,"v":-15},{"t":1192,"v":20},{"t":1193,"v":-25},{"t":1194,"v":25},{"t":1195,"v":10},{"t":1196,"v":-20},{"t":1197,"v":30},{"t":1198,"v":-15},{"t":1199,"v":20},{"t":1200,"v":-20},{"t":1201,"v":40},{"t":1202,"v":60},{"t":1203,"v":95},{"t":1204,"v":10},{"t":1205,"v":-15},{"t":1206,"v":25},{"t":1207,"v":10},{"t":1208,"v":-20},{"t":1209,"v":20},{"t":1210,"v":-3},{"t":1211,"v":-25},{"t":1212,"v":15},{"t":1213,"v":-10},{"t":1214,"v":14},{"t":1215,"v":-20},{"t":1216,"v":10},{"t":1217,"v":-26},{"t":1218,"v":0},{"t":1219,"v":-15},{"t":1220,"v":-5},{"t":1221,"v":-10}
],
"band":[{"start":1171.5,"end":1184}]
},
"vconcat":[
{
"width":1276,"height":253,
"layer":[
{"data":{"name":"band"},"mark":{"type":"rect","color":"#ff0000","opacity":0.36},
 "encoding":{"x":{"field":"start","type":"quantitative","scale":{"domain":[4,1280],"nice":false,"zero":false},"axis":{"orient":"top","title":null}},"x2":{"field":"end"}}},
{"data":{"name":"top"},"mark":{"type":"line","color":"#0000ff","strokeOpacity":0.5,"strokeWidth":3,"strokeJoin":"round"},
 "encoding":{"x":{"field":"t","type":"quantitative","scale":{"domain":[4,1280],"nice":false,"zero":false},"axis":{"orient":"bottom","title":null}},
 "y":{"field":"v","type":"quantitative","scale":{"domain":[-109,144],"nice":false,"zero":false},"axis":{"orient":"left","title":null,"domainColor":"#222222","domainWidth":2}}}},
{"data":{"values":[{"z":0}]},"mark":{"type":"rule","opacity":0},
 "encoding":{"y":{"field":"z","type":"quantitative","scale":{"domain":[-109,144],"nice":false,"zero":false},"axis":{"orient":"right","title":null,"domainColor":"#222222","domainWidth":2}}}}
],
"resolve":{"axis":{"x":"independent","y":"independent"}}
},
{
"width":1276,"height":253,
"layer":[
{"data":{"name":"blue2"},"mark":{"type":"line","color":"#0000ff","strokeOpacity":0.5,"strokeWidth":4.5,"strokeJoin":"round"},
 "encoding":{"x":{"field":"t","type":"quantitative","scale":{"domain":[4,1280],"nice":false,"zero":false},"axis":{"orient":"top","title":null,"domainColor":"#eeeeee"}},
 "y":{"field":"v","type":"quantitative","scale":{"domain":[-123,130],"nice":false,"zero":false},"axis":{"orient":"left","title":null,"domainColor":"#222222","domainWidth":2}}}},
{"data":{"name":"red2"},"mark":{"type":"line","color":"#ff0000","strokeOpacity":0.56,"strokeWidth":2.5,"strokeJoin":"round"},
 "encoding":{"x":{"field":"t","type":"quantitative","scale":{"domain":[4,1280],"nice":false,"zero":false},"axis":{"orient":"bottom","title":null}},
 "y":{"field":"v","type":"quantitative","scale":{"domain":[-123,130],"nice":false,"zero":false},"axis":{"orient":"right","title":null,"domainColor":"#222222","domainWidth":2}}}}
],
"resolve":{"axis":{"x":"independent","y":"independent"}}
}
]
}
